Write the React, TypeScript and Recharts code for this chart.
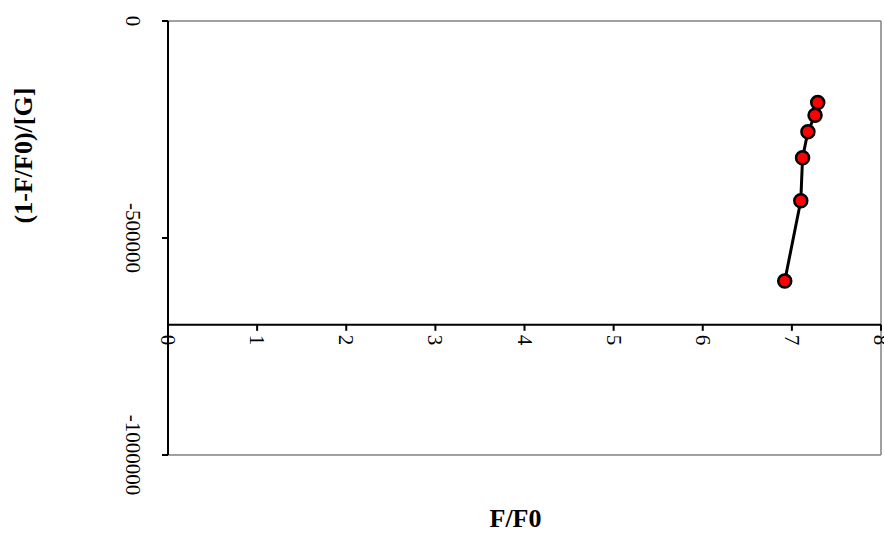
import React from 'react';
import {
  ScatterChart,
  Scatter,
  XAxis,
  YAxis,
  ReferenceLine,
  ReferenceDot,
  Label,
} from 'recharts';

// Measured fluorescence ratio and the derived quenching term
const fluorescenceRatio = [6.92, 7.1, 7.12, 7.18, 7.26, 7.29];
const quenchPerGuest = [-599000, -414000, -315000, -255000, -217000, -188000];

const xTicks = [0, 1, 2, 3, 4, 5, 6, 7, 8];
const yTicks = [0, -500000, -1000000];
const xDomain = [0, 8];
const yDomain = [-1000000, 0];
const xAxisCrossesAt = -700000;

const xTitle = 'F/F0';
const yTitle = '(1-F/F0)/[G]';

const points = fluorescenceRatio.map((x, i) => ({ x, y: quenchPerGuest[i] }));

const FONT = '"Liberation Serif", "Times New Roman", serif';

const YTick = (props: any) => {
  const { y, payload } = props;
  const cx = 133;
  return (
    <text
      x={cx}
      y={y}
      transform={`rotate(90, ${cx}, ${y})`}
      textAnchor="middle"
      dominantBaseline="central"
      fontFamily={FONT}
      fontSize={21}
      fill="#000"
    >
      {payload.value}
    </text>
  );
};

// Tick mark and rotated label drawn where the horizontal axis crosses
const makeXTick = (value: number) => (p: any) => {
  const { cx, cy } = p;
  return (
    <g>
      <line x1={cx} y1={cy} x2={cx} y2={cy + 6} stroke="#000" strokeWidth={2} />
      <text
        x={cx}
        y={cy + 10}
        transform={`rotate(90, ${cx}, ${cy + 10})`}
        textAnchor="start"
        dominantBaseline="central"
        fontFamily={FONT}
        fontSize={21}
        fill="#000"
      >
        {value}
      </text>
    </g>
  );
};

const Marker = (p: any) => (
  <circle cx={p.cx} cy={p.cy} r={6.5} fill="#FF0000" stroke="#000" strokeWidth={2.5} />
);

export default function App() {
  return (
    <div style={{ position: 'absolute', left: 0, top: 0, background: '#fff' }}>
      <ScatterChart
        width={884}
        height={533}
        margin={{ top: 21, right: 3, bottom: 0, left: 0 }}
      >
        <XAxis
          type="number"
          dataKey="x"
          domain={xDomain}
          ticks={xTicks}
          axisLine={false}
          tickLine={false}
          tick={false}
          height={78}
        >
          <Label
            content={(lp: any) => {
              const vb = lp.viewBox;
              return (
                <text
                  x={vb.x + vb.width / 2 - 9}
                  y={vb.y + vb.height - 6}
                  textAnchor="middle"
                  fontFamily={FONT}
                  fontWeight="bold"
                  fontSize={26}
                  fill="#000"
                >
                  {xTitle}
                </text>
              );
            }}
          />
        </XAxis>
        <YAxis
          type="number"
          dataKey="y"
          domain={yDomain}
          ticks={yTicks}
          width={168}
          axisLine={{ stroke: '#000', strokeWidth: 2 }}
          tickLine={{ stroke: '#000', strokeWidth: 2 }}
          tickSize={6}
          tick={<YTick />}
          interval={0}
        >
          <Label
            content={(lp: any) => {
              const vb = lp.viewBox;
              const cx = 24;
              const cy = vb.y + vb.height * 0.31;
              return (
                <text
                  x={cx}
                  y={cy}
                  transform={`rotate(-90, ${cx}, ${cy})`}
                  textAnchor="middle"
                  dominantBaseline="central"
                  fontFamily={FONT}
                  fontWeight="bold"
                  fontSize={26}
                  fill="#000"
                >
                  {yTitle}
                </text>
              );
            }}
          />
        </YAxis>

        {/* plot area frame */}
        <ReferenceLine y={0} stroke="#808080" strokeWidth={1.5} />
        <ReferenceLine y={-1000000} stroke="#808080" strokeWidth={1.5} />
        <ReferenceLine x={8} stroke="#808080" strokeWidth={1.5} />

        {/* horizontal axis placed at its crossing value */}
        <ReferenceLine y={xAxisCrossesAt} stroke="#000" strokeWidth={2} />
        {xTicks.map((t) => (
          <ReferenceDot
            key={t}
            x={t}
            y={xAxisCrossesAt}
            r={0}
            ifOverflow="visible"
            shape={makeXTick(t)}
          />
        ))}

        <Scatter
          data={points}
          line={{ stroke: '#000', strokeWidth: 3 }}
          lineType="joint"
          shape={<Marker />}
          isAnimationActive={false}
        />
      </ScatterChart>
    </div>
  );
}
